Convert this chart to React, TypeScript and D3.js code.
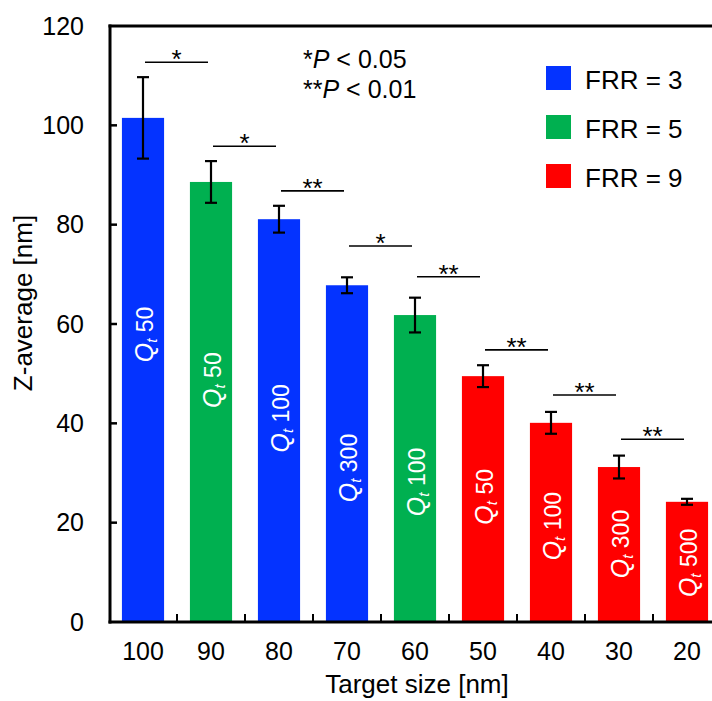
import React from "react";
import * as d3 from "d3";

const sizes = ["100", "90", "80", "70", "60", "50", "40", "30", "20"];
const means = [101.5, 88.6, 81.1, 67.8, 61.8, 49.5, 40.1, 31.2, 24.2];
const errors = [8.2, 4.2, 2.7, 1.6, 3.5, 2.2, 2.2, 2.3, 0.6];
const frr = [3, 5, 3, 3, 5, 9, 9, 9, 9];
const qt = ["50", "50", "100", "300", "100", "50", "100", "300", "500"];
const labelAt = [57.9, 48.7, 41.0, 31.0, 28.2, 25.2, 19.3, 15.7, 11.9];
const sigLevels = [112.7, 95.8, 86.8, 75.7, 69.5, 54.8, 45.7, 36.8];
const sigMarks = ["*", "*", "**", "*", "**", "**", "**", "**"];
const yTicks = [0, 20, 40, 60, 80, 100, 120];
const legendFrr = [3, 5, 9];
const colorOf: Record<number, string> = { 3: "#0433ff", 5: "#00b050", 9: "#ff0000" };

const W = 712;
const H = 701;
const FONT = "Liberation Sans, Arial, sans-serif";

export default function App() {
  const x = d3.scaleBand<string>().domain(sizes).range([109, 721]).padding(0);
  const y = d3.scaleLinear().domain([0, 120]).range([622, 26]);
  const bw = x.bandwidth() * 0.62;
  const cx = (i: number) => (x(sizes[i]) as number) + x.bandwidth() / 2;
  const left = 110;
  const bottom = y(0);

  return (
    <svg
      width={W}
      height={H}
      style={{ position: "absolute", left: 0, top: 0, display: "block", background: "#fff" }}
      fontFamily={FONT}
    >
      {/* bars */}
      {means.map((m, i) => (
        <rect
          key={"b" + i}
          x={cx(i) - bw / 2}
          y={y(m)}
          width={bw}
          height={bottom - y(m)}
          fill={colorOf[frr[i]]}
        />
      ))}
      {/* bar labels */}
      {means.map((m, i) => (
        <text
          key={"l" + i}
          transform={`translate(${cx(i) + 10},${y(labelAt[i])}) rotate(-90)`}
          textAnchor="middle"
          fill="#fff"
        >
          <tspan fontStyle="italic" fontSize={25}>Q</tspan>
          <tspan fontStyle="italic" fontSize={15} dy={4}>t</tspan>
          <tspan fontSize={23} dy={-4}>{" " + qt[i]}</tspan>
        </text>
      ))}
      {/* error bars */}
      {means.map((m, i) => {
        const c = cx(i);
        const t = y(m + errors[i]);
        const b = y(m - errors[i]);
        return (
          <g key={"e" + i} stroke="#000" strokeWidth={2.2}>
            <line x1={c} x2={c} y1={t} y2={b} />
            <line x1={c - 6} x2={c + 6} y1={t} y2={t} />
            <line x1={c - 6} x2={c + 6} y1={b} y2={b} />
          </g>
        );
      })}
      {/* significance */}
      {sigLevels.map((v, i) => {
        const x1 = cx(i) + 2;
        const x2 = cx(i + 1) - 3;
        return (
          <g key={"s" + i}>
            <line x1={x1} x2={x2} y1={y(v)} y2={y(v)} stroke="#000" strokeWidth={1.6} />
            <text x={(x1 + x2) / 2} y={y(v) + 6} textAnchor="middle" fontSize={26} fill="#000">
              {sigMarks[i]}
            </text>
          </g>
        );
      })}
      {/* frame / axes */}
      <g stroke="#000" strokeWidth={3} fill="none">
        <line x1={left} x2={left} y1={y(120) - 1.5} y2={bottom + 1.5} />
        <line x1={left - 1.5} x2={W + 10} y1={y(120)} y2={y(120)} />
        <line x1={left - 1.5} x2={W + 10} y1={bottom} y2={bottom} />
      </g>
      {/* y ticks */}
      {yTicks.map((t) => (
        <g key={"yt" + t}>
          {t > 0 && t < 120 && (
            <line x1={left} x2={left + 7} y1={y(t)} y2={y(t)} stroke="#000" strokeWidth={2.5} />
          )}
          <text x={84} y={y(t)} dy="0.35em" textAnchor="end" fontSize={25} fill="#000">
            {t}
          </text>
        </g>
      ))}
      {/* x ticks between bands */}
      {sizes.slice(1).map((s) => (
        <line
          key={"xt" + s}
          x1={x(s) as number}
          x2={x(s) as number}
          y1={bottom}
          y2={bottom - 8}
          stroke="#000"
          strokeWidth={2}
        />
      ))}
      {sizes.map((s, i) => (
        <text key={"xl" + s} x={cx(i)} y={660} textAnchor="middle" fontSize={25} fill="#000">
          {s}
        </text>
      ))}
      {/* axis titles */}
      <text x={417} y={693} textAnchor="middle" fontSize={26} fill="#000">
        Target size [nm]
      </text>
      <text
        transform={`translate(32,303) rotate(-90)`}
        textAnchor="middle"
        fontSize={26}
        fill="#000"
      >
        Z-average [nm]
      </text>
      {/* p-value note */}
      <text x={303} y={68} fontSize={25} fill="#000">
        *<tspan fontStyle="italic">P</tspan> &lt; 0.05
      </text>
      <text x={303} y={98} fontSize={25} fill="#000">
        **<tspan fontStyle="italic">P</tspan> &lt; 0.01
      </text>
      {/* legend */}
      {legendFrr.map((f, i) => (
        <g key={"lg" + f} transform={`translate(546,${66 + i * 49})`}>
          <rect x={0} y={0} width={25} height={24} fill={colorOf[f]} />
          <text x={39} y={23} fontSize={26} fill="#000">
            {`FRR = ${f}`}
          </text>
        </g>
      ))}
    </svg>
  );
}
